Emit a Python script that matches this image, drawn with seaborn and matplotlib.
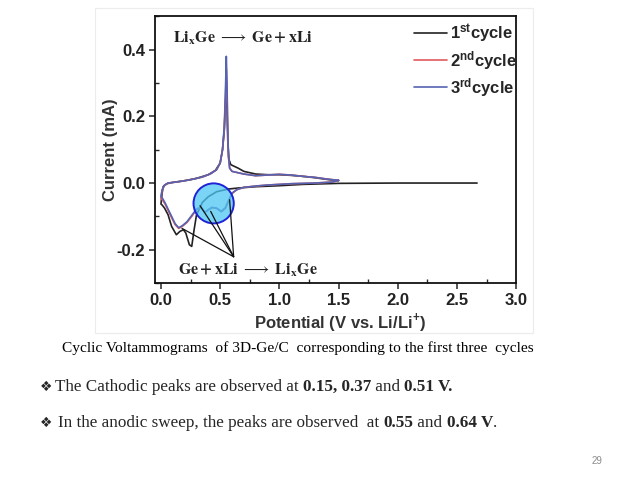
import numpy as np
import pandas as pd
import matplotlib
matplotlib.use("Agg")
import matplotlib.pyplot as plt
from matplotlib.patches import Ellipse, Rectangle
from matplotlib.ticker import MultipleLocator
import seaborn as sns

# ---- data (V, mA) ----
# cycle 1: OCV 2.67 V -> 0 V -> 1.5 V
c1_v = [2.67, 2.0, 1.5, 1.2, 1.0, 0.8, 0.65, 0.57, 0.47, 0.40, 0.35, 0.30, 0.28, 0.26, 0.24,
        0.21, 0.19, 0.16, 0.13, 0.09, 0.06, 0.03, 0.01, 0.0,
        0.01, 0.02, 0.05, 0.1, 0.2, 0.3, 0.4, 0.46, 0.5, 0.52, 0.535, 0.545, 0.552, 0.558,
        0.565, 0.575, 0.59, 0.62, 0.65, 0.7, 0.8, 0.9, 1.0, 1.1, 1.2, 1.3, 1.4, 1.5]
c1_i = [0.0, 0.0, -0.001, -0.004, -0.008, -0.011, -0.015, -0.018, -0.026, -0.041, -0.058, -0.096, -0.14, -0.19, -0.185,
        -0.15, -0.14, -0.145, -0.155, -0.13, -0.095, -0.075, -0.066, -0.063,
        -0.03, -0.01, -0.002, 0.002, 0.007, 0.014, 0.025, 0.038, 0.06, 0.1, 0.16, 0.24, 0.28, 0.22,
        0.12, 0.07, 0.055, 0.05, 0.045, 0.035, 0.027, 0.025, 0.025, 0.023, 0.02, 0.016, 0.011, 0.007]

# cycles 2 and 3: 1.5 V -> 0 V -> 1.5 V
c23_v = [1.5, 1.45, 1.3, 1.1, 1.0, 0.9, 0.8, 0.7, 0.64, 0.6, 0.57, 0.544, 0.51, 0.47, 0.43, 0.40, 0.37,
         0.34, 0.3, 0.26, 0.22, 0.18, 0.15, 0.12, 0.09, 0.06, 0.036, 0.015, 0.0,
         0.01, 0.03, 0.06, 0.15, 0.25, 0.35, 0.42, 0.47, 0.5, 0.52, 0.535, 0.545, 0.552, 0.558,
         0.563, 0.57, 0.58, 0.6, 0.7, 0.8, 0.9, 1.0, 1.1, 1.2, 1.3, 1.4, 1.5]
c2_i = [0.008, 0.003, 0.0, -0.002, -0.004, -0.006, -0.009, -0.013, -0.02, -0.032, -0.055, -0.076, -0.086, -0.076, -0.074, -0.081, -0.088,
        -0.074, -0.08, -0.1, -0.118, -0.13, -0.136, -0.125, -0.104, -0.082, -0.064, -0.052, -0.046,
        -0.022, -0.007, 0.0, 0.004, 0.01, 0.018, 0.028, 0.04, 0.06, 0.1, 0.16, 0.26, 0.34, 0.27,
        0.17, 0.08, 0.045, 0.035, 0.027, 0.022, 0.024, 0.026, 0.024, 0.02, 0.017, 0.012, 0.008]
c3_i = [0.008, 0.003, 0.0, -0.002, -0.004, -0.006, -0.009, -0.013, -0.02, -0.03, -0.053, -0.074, -0.085, -0.075, -0.073, -0.08, -0.088,
        -0.072, -0.078, -0.097, -0.116, -0.128, -0.134, -0.122, -0.1, -0.078, -0.06, -0.047, -0.04,
        -0.02, -0.006, 0.0, 0.004, 0.01, 0.018, 0.028, 0.04, 0.06, 0.1, 0.17, 0.28, 0.38, 0.30,
        0.18, 0.08, 0.045, 0.035, 0.027, 0.022, 0.024, 0.026, 0.024, 0.02, 0.017, 0.012, 0.008]

labels = [r'$\mathbf{1^{st}cycle}$', r'$\mathbf{2^{nd}cycle}$', r'$\mathbf{3^{rd}cycle}$']
colors = ['#222222', '#e25a5f', '#5563b3']

# peaks pointed at by the lower annotation
pointer_x = [0.178, 0.33, 0.42, 0.58]
pointer_y = [-0.136, -0.068, -0.085, -0.05]

df = pd.concat([
    pd.DataFrame({'V': c1_v, 'I': c1_i, 'cycle': labels[0]}),
    pd.DataFrame({'V': c23_v, 'I': c2_i, 'cycle': labels[1]}),
    pd.DataFrame({'V': c23_v, 'I': c3_i, 'cycle': labels[2]}),
])

sns.set_theme(style='ticks')
plt.rcParams['font.family'] = ['Liberation Sans', 'DejaVu Sans']
plt.rcParams['mathtext.fontset'] = 'custom'
plt.rcParams['mathtext.rm'] = 'Liberation Sans:bold'
plt.rcParams['mathtext.bf'] = 'Liberation Sans:bold'
plt.rcParams['axes.unicode_minus'] = False

fig = plt.figure(figsize=(6.38, 4.79), dpi=100)
fig.patch.set_facecolor('white')

# faint frame of the pasted picture
fig.patches.append(Rectangle((0.149, 0.305), 0.687, 0.678, transform=fig.transFigure,
                             fill=False, edgecolor='#ececec', lw=0.8))

ax = fig.add_axes([0.243, 0.409, 0.566, 0.557])
for lab, col in zip(labels, colors):
    sub = df[df['cycle'] == lab]
    sns.lineplot(x=sub['V'].values, y=sub['I'].values, sort=False, estimator=None,
                 color=col, lw=1.2, label=lab, ax=ax)

ax.set_xlim(-0.05, 3.0)
ax.set_ylim(-0.3, 0.5)
ax.xaxis.set_major_locator(MultipleLocator(0.5))
ax.xaxis.set_minor_locator(MultipleLocator(0.25))
ax.yaxis.set_minor_locator(MultipleLocator(0.1))
ax.set_yticks([-0.2, 0.0, 0.2, 0.4])
ax.tick_params(which='major', direction='out', length=4, width=1.1, labelsize=12, pad=3)
ax.tick_params(which='minor', direction='in', length=3, width=1.0)
for lab in ax.get_xticklabels() + ax.get_yticklabels():
    lab.set_fontweight('bold')
    lab.set_color('#222222')
for s in ax.spines.values():
    s.set_linewidth(1.3)
    s.set_color('#111111')

ax.set_xlabel(r'Potential (V vs. Li/Li$^{+}$)', fontsize=12, fontweight='bold', color='#333333', labelpad=3)
ax.xaxis.set_label_coords(0.513, -0.105)
ax.xaxis.label.set_va('top')
ax.set_ylabel('Current (mA)', fontsize=12, fontweight='bold', color='#333333', labelpad=-1)

leg = ax.legend(loc='upper right', bbox_to_anchor=(1.02, 1.003), frameon=False, fontsize=12,
                handlelength=2.0, handletextpad=0.15, labelspacing=0.25, borderaxespad=0.0)

# highlighted region
ax.add_patch(Ellipse((0.445, -0.061), 0.34, 0.12, facecolor='#4cc6f2', alpha=0.75,
                     edgecolor='none', zorder=5))
ax.add_patch(Ellipse((0.445, -0.061), 0.34, 0.12, fill=False, edgecolor='#1f22d8',
                     lw=1.4, zorder=6))

for px, py in zip(pointer_x, pointer_y):
    ax.plot([0.614, px], [-0.221, py], color='#111111', lw=0.9, zorder=7)

ax.text(0.1, 0.434, r'$\mathbf{Li_{x}Ge}\ \longrightarrow\ \mathbf{Ge + xLi}$', math_fontfamily='stix',
        fontsize=11.5, va='center', ha='left', color='#222222')
ax.text(0.14, -0.262, r'$\mathbf{Ge + xLi}\ \longrightarrow\ \mathbf{Li_{x}Ge}$', math_fontfamily='stix',
        fontsize=11.5, va='center', ha='left', color='#222222')

# slide text
serif = ['Liberation Serif', 'DejaVu Sans']
fig.text(0.467, 0.2735, 'Cyclic Voltammograms  of 3D-Ge/C  corresponding to the first three  cycles',
         family=serif, fontsize=11.1, ha='center', va='center', color='black')

renderer = fig.canvas.get_renderer()


def put_runs(x, y, runs, size):
    for s, w in runs:
        t = fig.text(x, y, s, family=serif, fontsize=size, fontweight=w, va='center', ha='left')
        x += t.get_window_extent(renderer).width / fig.bbox.width


for yy in (0.192, 0.117):
    fig.text(0.063, yy, '\u2756', family=['DejaVu Sans'], fontsize=10, va='center', ha='left')

put_runs(0.086, 0.192, [('The Cathodic peaks are observed at ', 'normal'), ('0.15, 0.37', 'bold'),
                        (' and ', 'normal'), ('0.51 V.', 'bold')], 12.3)
put_runs(0.091, 0.117, [('In the anodic sweep, the peaks are observed  at ', 'normal'), ('0.55', 'bold'),
                        (' and ', 'normal'), ('0.64 V', 'bold'), ('.', 'normal')], 12.3)

fig.text(0.936, 0.0376, '29', family=['Liberation Sans'], fontsize=7, color='#8c8c8c',
         ha='center', va='center')

fig.savefig('out.png', dpi=100, facecolor='white')
